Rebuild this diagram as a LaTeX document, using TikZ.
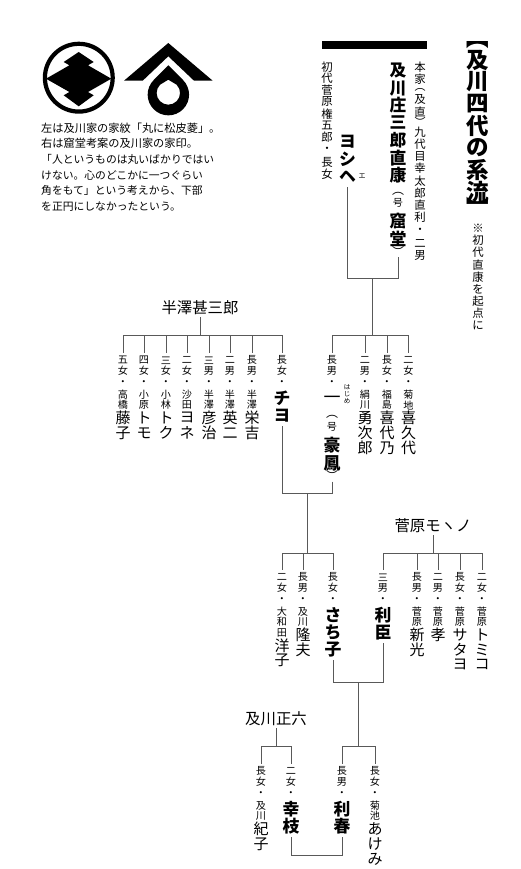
\documentclass[tikz,border=0pt]{standalone}
\usepackage{fontspec}
\setmainfont{Noto Sans CJK JP}
\usepackage{tikz}
\usetikzlibrary{calc,positioning}
\makeatletter
\newcommand{\tate}[3]{\@tfor\tatechar:=#3\do{\hbox to 24pt{\hss\vbox to #2pt{\vss\hbox{\fontsize{#1}{#1}\selectfont\tatechar}\vss}\hss}}}
\makeatother
\newcommand{\col}[1]{\vbox{\offinterlineskip #1}}
\newcommand{\sm}[1]{\tate{10.1}{10.6}{#1}}
\newcommand{\tdot}{\tate{10.1}{13}{・}}
\newcommand{\nm}[1]{\tate{15}{15}{#1}}
\newcommand{\nb}[1]{{\bfseries\tate{16.8}{17.4}{#1}}}
\newcommand{\mrk}[1]{\tate{11.4}{12.2}{#1}}
\newcommand{\popen}{\tate{12}{8}{︵}}
\newcommand{\pclose}{\tate{12}{8}{︶}}
\tikzset{
  tatebox/.style = {inner sep=0pt, outer xsep=0pt, outer ysep=2pt, anchor=north},
  titlebox/.style = {inner sep=0pt, outer sep=2pt, font=\fontsize{15.4}{15.4}\selectfont},
  wire/.style    = {line width=1pt, black!65},
  rubybox/.style = {inner sep=0pt},
}
\begin{document}
\begin{tikzpicture}[x=1pt,y=-1pt]
  \useasboundingbox (0,0) rectangle (520,869);
  \fill[white] (0,0) rectangle (520,869);

  \draw[line width=4.2pt] (78.8,77.7) circle (33.9);
  \fill (78.7,52) -- (93.7,62) -- (88,65.3) -- (111.3,78.7) -- (88,92) -- (93.7,95.3)
     -- (78.7,106.3) -- (63.7,95.3) -- (69.4,92) -- (46,78.7) -- (69.4,65.3) -- (63.7,62) -- cycle;
  \fill (168.3,43) -- (212.7,80.7) -- (194,80.7) -- (168.3,56.3) -- (142.7,80.7) -- (124,80.7) -- cycle;
  \fill[even odd rule] (168.3,65.3) -- (183,80) arc[start angle=45,end angle=-225,radius=20.7pt] -- cycle
     (168.3,79.7) -- (176.6,84.7) arc[start angle=45,end angle=-225,radius=11.7pt] -- cycle;
  \node[anchor=north west,inner sep=0pt,align=left,font=\fontsize{10.8}{15.7}\selectfont] (caption) at (41,122.5)
    {{\fontsize{11.2}{15.7}\selectfont 左は及川家の家紋「丸に松皮菱」。}\\
     {\fontsize{11.2}{15.7}\selectfont 右は窟堂考案の及川家の家印。}\\
     「人というものは丸いばかりではい\\
     けない。心のどこかに一つぐらい\\
     角をもて」という考えから、下部\\
     を正円にしなかったという。};

  \fill (322,41) rectangle (427,49);
  \node[tatebox] (title) at (478,39) {\col{{\bfseries\tate{22.5}{8}{︻}\tate{22.5}{22}{及川四代の系流}\tate{22.5}{8}{︼}}}};
  \node[tatebox] (kiten) at (478,220) {\col{\mrk{※初代直康を起点に}}};

  \node[tatebox] (honke) at (420,59) {\col{\mrk{本家}\tate{11}{8}{︵}\mrk{及直}\tate{11}{8}{︶}\mrk{九代目幸太郎直利}\tate{11}{14}{・}\mrk{二男}}};
  \node[tatebox] (naoyasu) at (398,60) {\col{\nb{及川庄三郎直康}\vskip6pt\popen\sm{号}\vskip4pt\nb{窟堂}\pclose}};
  \node[tatebox] (gonta) at (327,59) {\col{\tate{11.4}{11.7}{初代菅原権五郎}\tate{11}{14}{・}\tate{11.4}{11.7}{長女}}};
  \node[tatebox] (yoshie) at (347.5,131) {\col{\nb{ヨシヘ}}};
  \node[rubybox] (yoshieruby) at (362,176) {\fontsize{7}{7}\selectfont エ};
  \coordinate (topjoin) at (372,278);
  \draw[wire] (yoshie) |- (topjoin);
  \draw[wire] (naoyasu) |- (topjoin);

  \coordinate (hajimebar) at (372,335);
  \draw[wire] (topjoin) -- (hajimebar);
  \node[tatebox] (hajime) at (332,353) {\col{\sm{長男}\tdot\tate{17}{7}{\bfseries 一}\vskip10pt\popen\sm{号}\vskip5pt\nb{豪鳳}\pclose}};
  \node[rubybox] (hajimeruby) at (347,394) {\col{\tate{6.5}{7.3}{はじめ}}};
  \node[tatebox] (yujiro) at (365,353) {\col{\sm{二男}\tdot\sm{絹川}\nm{勇次郎}}};
  \node[tatebox] (kiyono) at (387,353) {\col{\sm{長女}\tdot\sm{福島}\nm{喜代乃}}};
  \node[tatebox] (kikuyo) at (408.5,353) {\col{\sm{二女}\tdot\sm{菊地}\nm{喜久代}}};
  \foreach \n in {hajime,yujiro,kiyono,kikuyo}
    \draw[wire] (hajimebar) -| (\n);

  \node[titlebox] (jinzaburo) at (200,308) {半澤甚三郎};
  \coordinate (chiyobar) at (200,335);
  \draw[wire] (jinzaburo) -- (chiyobar);
  \node[tatebox] (chiyo) at (282,353) {\col{\sm{長女}\tdot\nb{チヨ}}};
  \node[tatebox] (eikichi) at (252,353) {\col{\sm{長男}\tdot\sm{半澤}\nm{栄吉}}};
  \node[tatebox] (eiji) at (230,353) {\col{\sm{二男}\tdot\sm{半澤}\nm{英二}}};
  \node[tatebox] (hikoji) at (209,353) {\col{\sm{三男}\tdot\sm{半澤}\nm{彦治}}};
  \node[tatebox] (yone) at (187,353) {\col{\sm{二女}\tdot\sm{沙田}\nm{ヨネ}}};
  \node[tatebox] (toku) at (166,353) {\col{\sm{三女}\tdot\sm{小林}\nm{トク}}};
  \node[tatebox] (tomo) at (144,353) {\col{\sm{四女}\tdot\sm{小原}\nm{トモ}}};
  \node[tatebox] (fuji) at (123,353) {\col{\sm{五女}\tdot\sm{高橋}\nm{藤子}}};
  \foreach \n in {chiyo,eikichi,eiji,hikoji,yone,toku,tomo,fuji}
    \draw[wire] (chiyobar) -| (\n);

  \coordinate (midjoin) at (307,493);
  \coordinate (sachibar) at (307,553);
  \draw[wire] (chiyo) |- (midjoin);
  \draw[wire] (hajime) |- (midjoin);
  \draw[wire] (midjoin) -- (sachibar);
  \node[tatebox] (sachiko) at (333,570) {\col{\sm{長女}\tdot\nb{さち子}}};
  \node[tatebox] (takao) at (303,570) {\col{\sm{長男}\tdot\sm{及川}\nm{隆夫}}};
  \node[tatebox] (yoko) at (282,570) {\col{\sm{二女}\tdot\sm{大和田}\nm{洋子}}};
  \foreach \n in {sachiko,takao,yoko}
    \draw[wire] (sachibar) -| (\n);

  \node[titlebox] (monono) at (433,526) {菅原モヽノ};
  \coordinate (toshibar) at (433,553);
  \draw[wire] (monono) -- (toshibar);
  \node[tatebox] (toshiomi) at (383,570) {\col{\sm{三男}\tdot\nb{利臣}}};
  \node[tatebox] (shinko) at (417,570) {\col{\sm{長男}\tdot\sm{菅原}\nm{新光}}};
  \node[tatebox] (takashi) at (438,570) {\col{\sm{二男}\tdot\sm{菅原}\nm{孝}}};
  \node[tatebox] (satayo) at (460,570) {\col{\sm{長女}\tdot\sm{菅原}\nm{サタヨ}}};
  \node[tatebox] (tomiko) at (482,570) {\col{\sm{二女}\tdot\sm{菅原}\nm{トミコ}}};
  \foreach \n in {toshiomi,shinko,takashi,satayo,tomiko}
    \draw[wire] (toshibar) -| (\n);

  \coordinate (lowjoin) at (358,682);
  \coordinate (toshibar2) at (358,746);
  \draw[wire] (sachiko) |- (lowjoin);
  \draw[wire] (toshiomi) |- (lowjoin);
  \draw[wire] (lowjoin) -- (toshibar2);
  \node[tatebox] (toshiharu) at (342,764) {\col{\sm{長男}\tdot\nb{利春}}};
  \node[tatebox] (akemi) at (375,764) {\col{\sm{長女}\tdot\sm{菊池}\nm{あけみ}}};
  \foreach \n in {toshiharu,akemi}
    \draw[wire] (toshibar2) -| (\n);

  \node[titlebox] (masaroku) at (276,719) {及川正六};
  \coordinate (yukibar) at (276,746);
  \draw[wire] (masaroku) -- (yukibar);
  \node[tatebox] (noriko) at (261,764) {\col{\sm{長女}\tdot\sm{及川}\nm{紀子}}};
  \node[tatebox] (yukie) at (291,764) {\col{\sm{二女}\tdot\nb{幸枝}}};
  \foreach \n in {noriko,yukie}
    \draw[wire] (yukibar) -| (\n);

  \coordinate (lastjoin) at (316,855);
  \draw[wire] (yukie) |- (lastjoin);
  \draw[wire] (toshiharu) |- (lastjoin);
\end{tikzpicture}
\end{document}
